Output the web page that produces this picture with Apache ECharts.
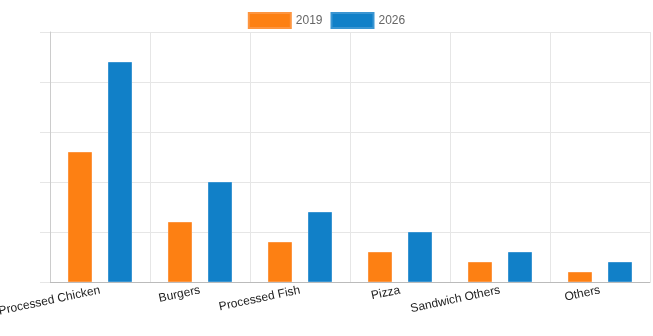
<!DOCTYPE html>
<html><head><meta charset="utf-8">
<script src="https://cdn.jsdelivr.net/npm/echarts@6/dist/echarts.min.js"></script>
<style>html,body{margin:0;padding:0;background:#fff}#c{width:653px;height:336px}</style>
</head><body><div id="c"></div>
<script>
const categories = ["Processed Chicken","Burgers","Processed Fish","Pizza","Sandwich Others","Others"];
const values2019 = [2.6, 1.2, 0.8, 0.6, 0.4, 0.2];
const values2026 = [4.4, 2.0, 1.4, 1.0, 0.6, 0.4];
const seriesNames = ["2019","2026"];

const chart = echarts.init(document.getElementById('c'));
const font = 'Liberation Sans, Arial, sans-serif';
chart.setOption({
  animation: false,
  textStyle: {fontFamily: font},
  legend: {
    top: 7, left: 'center', itemWidth: 42, itemHeight: 15, itemGap: 8, icon: 'rect',
    textStyle: {color: '#666', fontSize: 12, fontFamily: font},
    data: seriesNames
  },
  grid: {left: 50, right: 3, top: 32, bottom: 54, containLabel: false, outerBoundsMode: 'none'},
  xAxis: {
    type: 'category', data: categories,
    axisLine: {lineStyle: {color: '#bbb'}},
    axisTick: {length: 10, lineStyle: {color: '#ddd'}},
    splitLine: {show: true, lineStyle: {color: '#e6e6e6'}},
    axisLabel: {rotate: 12, color: '#222', fontSize: 12, fontFamily: font, margin: 8, interval: 0}
  },
  yAxis: {
    type: 'value', min: 0, max: 5, interval: 1,
    axisLine: {show: true, lineStyle: {color: '#ccc'}},
    axisTick: {show: true, length: 10, lineStyle: {color: '#e6e6e6'}},
    axisLabel: {show: false},
    splitLine: {lineStyle: {color: '#e6e6e6'}}
  },
  series: [
    {name: seriesNames[0], type: 'bar', data: values2019, barWidth: 24, barGap: '66.7%',
     itemStyle: {color: '#fd8013', borderColor: '#fd9540', borderWidth: 1}},
    {name: seriesNames[1], type: 'bar', data: values2026, barWidth: 24,
     itemStyle: {color: '#1180c8', borderColor: '#3a95d2', borderWidth: 1}}
  ]
});
</script></body></html>
